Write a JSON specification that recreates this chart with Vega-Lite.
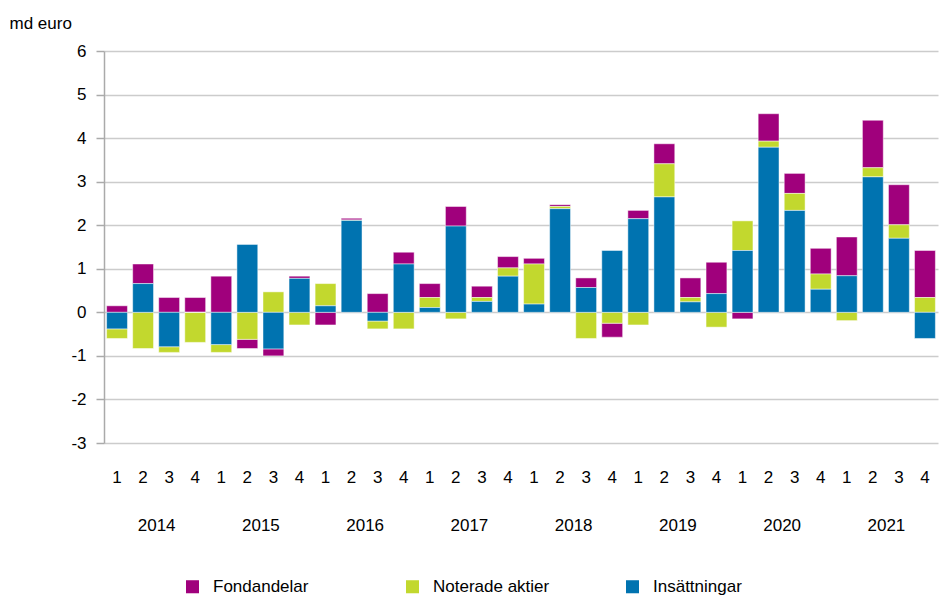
{
  "$schema": "https://vega.github.io/schema/vega-lite/v6.json",
  "width": 834,
  "height": 392,
  "autosize": {"type": "none"},
  "padding": {"left": 104, "top": 51, "right": 1, "bottom": 156},
  "background": "#ffffff",
  "config": {
    "font": "Liberation Sans",
    "view": {"stroke": null}
  },
  "data": {"values": [
    {"p":"2014-1","yr":"2014","s":"Fondandelar","v":0.15,"o":3},{"p":"2014-1","yr":"2014","s":"Noterade aktier","v":-0.22,"o":2},{"p":"2014-1","yr":"2014","s":"Insättningar","v":-0.38,"o":1},
    {"p":"2014-2","yr":"2014","s":"Fondandelar","v":0.45,"o":3},{"p":"2014-2","yr":"2014","s":"Noterade aktier","v":-0.83,"o":2},{"p":"2014-2","yr":"2014","s":"Insättningar","v":0.66,"o":1},
    {"p":"2014-3","yr":"2014","s":"Fondandelar","v":0.34,"o":3},{"p":"2014-3","yr":"2014","s":"Noterade aktier","v":-0.13,"o":2},{"p":"2014-3","yr":"2014","s":"Insättningar","v":-0.79,"o":1},
    {"p":"2014-4","yr":"2014","s":"Fondandelar","v":0.34,"o":3},{"p":"2014-4","yr":"2014","s":"Noterade aktier","v":-0.69,"o":2},{"p":"2014-4","yr":"2014","s":"Insättningar","v":0.0,"o":1},
    {"p":"2015-1","yr":"2015","s":"Fondandelar","v":0.83,"o":3},{"p":"2015-1","yr":"2015","s":"Noterade aktier","v":-0.18,"o":2},{"p":"2015-1","yr":"2015","s":"Insättningar","v":-0.74,"o":1},
    {"p":"2015-2","yr":"2015","s":"Fondandelar","v":-0.21,"o":3},{"p":"2015-2","yr":"2015","s":"Noterade aktier","v":-0.62,"o":2},{"p":"2015-2","yr":"2015","s":"Insättningar","v":1.56,"o":1},
    {"p":"2015-3","yr":"2015","s":"Fondandelar","v":-0.16,"o":3},{"p":"2015-3","yr":"2015","s":"Noterade aktier","v":0.47,"o":2},{"p":"2015-3","yr":"2015","s":"Insättningar","v":-0.84,"o":1},
    {"p":"2015-4","yr":"2015","s":"Fondandelar","v":0.05,"o":3},{"p":"2015-4","yr":"2015","s":"Noterade aktier","v":-0.29,"o":2},{"p":"2015-4","yr":"2015","s":"Insättningar","v":0.78,"o":1},
    {"p":"2016-1","yr":"2016","s":"Fondandelar","v":-0.29,"o":3},{"p":"2016-1","yr":"2016","s":"Noterade aktier","v":0.51,"o":2},{"p":"2016-1","yr":"2016","s":"Insättningar","v":0.15,"o":1},
    {"p":"2016-2","yr":"2016","s":"Fondandelar","v":0.04,"o":3},{"p":"2016-2","yr":"2016","s":"Noterade aktier","v":0.01,"o":2},{"p":"2016-2","yr":"2016","s":"Insättningar","v":2.11,"o":1},
    {"p":"2016-3","yr":"2016","s":"Fondandelar","v":0.43,"o":3},{"p":"2016-3","yr":"2016","s":"Noterade aktier","v":-0.18,"o":2},{"p":"2016-3","yr":"2016","s":"Insättningar","v":-0.2,"o":1},
    {"p":"2016-4","yr":"2016","s":"Fondandelar","v":0.27,"o":3},{"p":"2016-4","yr":"2016","s":"Noterade aktier","v":-0.38,"o":2},{"p":"2016-4","yr":"2016","s":"Insättningar","v":1.11,"o":1},
    {"p":"2017-1","yr":"2017","s":"Fondandelar","v":0.32,"o":3},{"p":"2017-1","yr":"2017","s":"Noterade aktier","v":0.23,"o":2},{"p":"2017-1","yr":"2017","s":"Insättningar","v":0.11,"o":1},
    {"p":"2017-2","yr":"2017","s":"Fondandelar","v":0.45,"o":3},{"p":"2017-2","yr":"2017","s":"Noterade aktier","v":-0.15,"o":2},{"p":"2017-2","yr":"2017","s":"Insättningar","v":1.98,"o":1},
    {"p":"2017-3","yr":"2017","s":"Fondandelar","v":0.26,"o":3},{"p":"2017-3","yr":"2017","s":"Noterade aktier","v":0.09,"o":2},{"p":"2017-3","yr":"2017","s":"Insättningar","v":0.25,"o":1},
    {"p":"2017-4","yr":"2017","s":"Fondandelar","v":0.26,"o":3},{"p":"2017-4","yr":"2017","s":"Noterade aktier","v":0.19,"o":2},{"p":"2017-4","yr":"2017","s":"Insättningar","v":0.83,"o":1},
    {"p":"2018-1","yr":"2018","s":"Fondandelar","v":0.13,"o":3},{"p":"2018-1","yr":"2018","s":"Noterade aktier","v":0.92,"o":2},{"p":"2018-1","yr":"2018","s":"Insättningar","v":0.19,"o":1},
    {"p":"2018-2","yr":"2018","s":"Fondandelar","v":0.04,"o":3},{"p":"2018-2","yr":"2018","s":"Noterade aktier","v":0.05,"o":2},{"p":"2018-2","yr":"2018","s":"Insättningar","v":2.38,"o":1},
    {"p":"2018-3","yr":"2018","s":"Fondandelar","v":0.22,"o":3},{"p":"2018-3","yr":"2018","s":"Noterade aktier","v":-0.6,"o":2},{"p":"2018-3","yr":"2018","s":"Insättningar","v":0.57,"o":1},
    {"p":"2018-4","yr":"2018","s":"Fondandelar","v":-0.32,"o":3},{"p":"2018-4","yr":"2018","s":"Noterade aktier","v":-0.25,"o":2},{"p":"2018-4","yr":"2018","s":"Insättningar","v":1.42,"o":1},
    {"p":"2019-1","yr":"2019","s":"Fondandelar","v":0.19,"o":3},{"p":"2019-1","yr":"2019","s":"Noterade aktier","v":-0.29,"o":2},{"p":"2019-1","yr":"2019","s":"Insättningar","v":2.15,"o":1},
    {"p":"2019-2","yr":"2019","s":"Fondandelar","v":0.46,"o":3},{"p":"2019-2","yr":"2019","s":"Noterade aktier","v":0.76,"o":2},{"p":"2019-2","yr":"2019","s":"Insättningar","v":2.65,"o":1},
    {"p":"2019-3","yr":"2019","s":"Fondandelar","v":0.45,"o":3},{"p":"2019-3","yr":"2019","s":"Noterade aktier","v":0.1,"o":2},{"p":"2019-3","yr":"2019","s":"Insättningar","v":0.24,"o":1},
    {"p":"2019-4","yr":"2019","s":"Fondandelar","v":0.72,"o":3},{"p":"2019-4","yr":"2019","s":"Noterade aktier","v":-0.34,"o":2},{"p":"2019-4","yr":"2019","s":"Insättningar","v":0.43,"o":1},
    {"p":"2020-1","yr":"2020","s":"Fondandelar","v":-0.15,"o":3},{"p":"2020-1","yr":"2020","s":"Noterade aktier","v":0.68,"o":2},{"p":"2020-1","yr":"2020","s":"Insättningar","v":1.42,"o":1},
    {"p":"2020-2","yr":"2020","s":"Fondandelar","v":0.63,"o":3},{"p":"2020-2","yr":"2020","s":"Noterade aktier","v":0.14,"o":2},{"p":"2020-2","yr":"2020","s":"Insättningar","v":3.79,"o":1},
    {"p":"2020-3","yr":"2020","s":"Fondandelar","v":0.46,"o":3},{"p":"2020-3","yr":"2020","s":"Noterade aktier","v":0.39,"o":2},{"p":"2020-3","yr":"2020","s":"Insättningar","v":2.34,"o":1},
    {"p":"2020-4","yr":"2020","s":"Fondandelar","v":0.59,"o":3},{"p":"2020-4","yr":"2020","s":"Noterade aktier","v":0.35,"o":2},{"p":"2020-4","yr":"2020","s":"Insättningar","v":0.53,"o":1},
    {"p":"2021-1","yr":"2021","s":"Fondandelar","v":0.89,"o":3},{"p":"2021-1","yr":"2021","s":"Noterade aktier","v":-0.19,"o":2},{"p":"2021-1","yr":"2021","s":"Insättningar","v":0.84,"o":1},
    {"p":"2021-2","yr":"2021","s":"Fondandelar","v":1.09,"o":3},{"p":"2021-2","yr":"2021","s":"Noterade aktier","v":0.21,"o":2},{"p":"2021-2","yr":"2021","s":"Insättningar","v":3.11,"o":1},
    {"p":"2021-3","yr":"2021","s":"Fondandelar","v":0.92,"o":3},{"p":"2021-3","yr":"2021","s":"Noterade aktier","v":0.31,"o":2},{"p":"2021-3","yr":"2021","s":"Insättningar","v":1.7,"o":1},
    {"p":"2021-4","yr":"2021","s":"Fondandelar","v":1.08,"o":3},{"p":"2021-4","yr":"2021","s":"Noterade aktier","v":0.34,"o":2},{"p":"2021-4","yr":"2021","s":"Insättningar","v":-0.6,"o":1}
  ]},
  "layer": [
    {
      "mark": {"type": "bar", "stroke": "#ffffff", "strokeWidth": 0.6, "strokeOpacity": 0.8},
      "encoding": {
        "x": {
          "field": "p", "type": "ordinal", "sort": null,
          "scale": {"paddingInner": 0.2, "paddingOuter": 0.1},
          "axis": {
            "title": null, "labelAngle": 0, "ticks": false, "domain": false,
            "labelPadding": 26, "labelFontSize": 17, "labelFont": "Liberation Sans", "labelColor": "#000000",
            "labelExpr": "split(datum.value, '-')[1]"
          }
        },
        "y": {
          "field": "v", "type": "quantitative", "stack": "zero",
          "scale": {"domain": [-3, 6], "nice": false, "zero": false},
          "axis": {
            "values": [-3, -2, -1, 0, 1, 2, 3, 4, 5, 6],
            "labelExpr": "'' + datum.value",
            "labelFontSize": 17, "labelFont": "Liberation Sans", "labelColor": "#000000",
            "title": "md euro", "titleAngle": 0, "titleAlign": "left", "titleBaseline": "middle",
            "titleX": -95, "titleY": -28, "titleFontSize": 17, "titleFontWeight": "normal", "titleColor": "#000000", "titleFont": "Liberation Sans",
            "grid": true, "gridColor": "#cccccc", "gridWidth": 1.5,
            "domain": true, "domainColor": "#aaaaaa", "domainWidth": 1.5,
            "ticks": true, "tickColor": "#aaaaaa", "tickSize": 8, "tickWidth": 1.5,
            "labelPadding": 10
          }
        },
        "color": {
          "field": "s", "type": "nominal",
          "scale": {"domain": ["Fondandelar", "Noterade aktier", "Insättningar"], "range": ["#a0007c", "#c2d82e", "#0073b0"]},
          "legend": {
            "title": null, "orient": "none", "legendX": 80, "legendY": 527, "direction": "horizontal",
            "gridAlign": "all",
            "symbolType": "square", "symbolSize": 170, "symbolStrokeWidth": 0,
            "labelFontSize": 17, "labelFont": "Liberation Sans", "labelOffset": 12, "columnPadding": 74, "labelColor": "#000000"
          }
        },
        "order": {"field": "o", "type": "quantitative"}
      }
    },
    {
      "mark": {"type": "point", "opacity": 0},
      "encoding": {
        "x": {
          "field": "yr", "type": "ordinal",
          "scale": {"paddingInner": 0, "paddingOuter": 0},
          "axis": {"orient": "bottom", "title": null, "labelAngle": 0, "ticks": false, "domain": false, "grid": false, "labelPadding": 74, "labelFontSize": 17, "labelFont": "Liberation Sans", "labelColor": "#000000"}
        }
      }
    }
  ],
  "resolve": {"scale": {"x": "independent"}, "axis": {"x": "independent"}}
}
